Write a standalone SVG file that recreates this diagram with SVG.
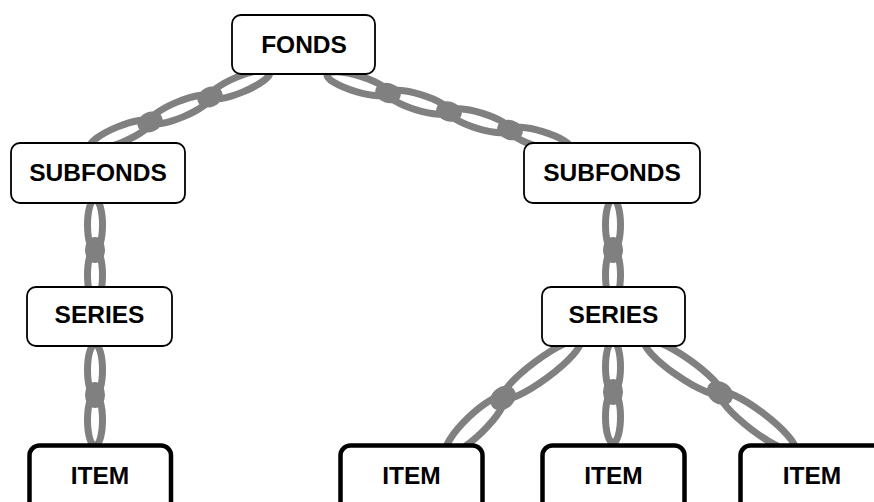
<svg xmlns="http://www.w3.org/2000/svg" width="874" height="502" viewBox="0 0 874 502">
<style>
.bg{fill:#fff}
.link{fill:none;stroke:#808080;stroke-width:7}
.knot{fill:#808080}
.box{fill:#fff;stroke:#000;stroke-width:1.8}
.item{fill:#fff;stroke:#000;stroke-width:4.5}
.lbl{font-family:"Liberation Sans",Arial,sans-serif;font-weight:bold;font-size:24.5px;fill:#000;text-anchor:middle}
</style>
<rect class="bg" x="0" y="0" width="874" height="502"/>
<g id="connectors">
  <!-- FONDS to SUBFONDS left -->
  <g>
    <ellipse class="link" cx="240" cy="84.5" rx="32.5" ry="8" transform="rotate(-22.6 240 84.5)"/>
    <ellipse class="link" cx="180" cy="109.5" rx="32.5" ry="8" transform="rotate(-22.6 180 109.5)"/>
    <ellipse class="link" cx="120" cy="134.5" rx="32.5" ry="8" transform="rotate(-22.6 120 134.5)"/>
    <ellipse class="knot" cx="210" cy="97" rx="13" ry="10" transform="rotate(-22.6 210 97)"/>
    <ellipse class="knot" cx="150" cy="122" rx="13" ry="10" transform="rotate(-22.6 150 122)"/>
  </g>
  <!-- FONDS to SUBFONDS right -->
  <g>
    <ellipse class="link" cx="357.5" cy="83.75" rx="32" ry="8" transform="rotate(16.9 357.5 83.75)"/>
    <ellipse class="link" cx="418.5" cy="102.25" rx="32" ry="8" transform="rotate(16.9 418.5 102.25)"/>
    <ellipse class="link" cx="479.5" cy="120.75" rx="32" ry="8" transform="rotate(16.9 479.5 120.75)"/>
    <ellipse class="link" cx="540.5" cy="139.25" rx="32" ry="8" transform="rotate(16.9 540.5 139.25)"/>
    <ellipse class="knot" cx="388" cy="93" rx="13" ry="10" transform="rotate(16.9 388 93)"/>
    <ellipse class="knot" cx="449" cy="111.5" rx="13" ry="10" transform="rotate(16.9 449 111.5)"/>
    <ellipse class="knot" cx="510" cy="130" rx="13" ry="10" transform="rotate(16.9 510 130)"/>
  </g>
  <!-- SUBFONDS left to SERIES left -->
  <g>
    <ellipse class="link" cx="95" cy="225" rx="7.5" ry="26"/>
    <ellipse class="link" cx="95" cy="275" rx="7.5" ry="26"/>
    <ellipse class="knot" cx="95" cy="250" rx="10" ry="13"/>
  </g>
  <!-- SERIES left to ITEM left -->
  <g>
    <ellipse class="link" cx="95" cy="370" rx="7.5" ry="26"/>
    <ellipse class="link" cx="95" cy="420" rx="7.5" ry="26"/>
    <ellipse class="knot" cx="95" cy="395" rx="10" ry="13"/>
  </g>
  <!-- SUBFONDS right to SERIES right -->
  <g>
    <ellipse class="link" cx="613" cy="225" rx="7.5" ry="26"/>
    <ellipse class="link" cx="613" cy="275" rx="7.5" ry="26"/>
    <ellipse class="knot" cx="613" cy="250" rx="10" ry="13"/>
  </g>
  <!-- SERIES right to ITEM middle -->
  <g>
    <ellipse class="link" cx="613" cy="367" rx="7.5" ry="26"/>
    <ellipse class="link" cx="613" cy="417" rx="7.5" ry="26"/>
    <ellipse class="knot" cx="613" cy="392" rx="10" ry="13"/>
  </g>
  <!-- SERIES right to ITEM 2 (left diagonal) -->
  <g>
    <ellipse class="link" cx="541.5" cy="369.5" rx="48" ry="10" transform="rotate(-36.5 541.5 369.5)"/>
    <ellipse class="link" cx="475" cy="425" rx="40" ry="10" transform="rotate(-44 475 425)"/>
    <ellipse class="knot" cx="503" cy="398" rx="14" ry="11" transform="rotate(-40 503 398)"/>
  </g>
  <!-- SERIES right to ITEM 4 (right diagonal) -->
  <g>
    <ellipse class="link" cx="682.5" cy="367" rx="46" ry="10" transform="rotate(34.7 682.5 367)"/>
    <ellipse class="link" cx="757.5" cy="421.5" rx="47" ry="10" transform="rotate(37.2 757.5 421.5)"/>
    <ellipse class="knot" cx="720" cy="393" rx="14" ry="11" transform="rotate(36 720 393)"/>
  </g>
</g>
<g id="fonds">
  <rect class="box" x="232" y="15" width="143" height="59" rx="9"/>
  <text class="lbl" x="304" y="53">FONDS</text>
</g>
<g id="subfonds-left">
  <rect class="box" x="11" y="143" width="174" height="60" rx="9"/>
  <text class="lbl" x="98" y="181">SUBFONDS</text>
</g>
<g id="subfonds-right">
  <rect class="box" x="524" y="143" width="176" height="60" rx="9"/>
  <text class="lbl" x="612" y="181">SUBFONDS</text>
</g>
<g id="series-left">
  <rect class="box" x="27" y="287" width="145" height="59" rx="9"/>
  <text class="lbl" x="99.5" y="323">SERIES</text>
</g>
<g id="series-right">
  <rect class="box" x="542" y="287" width="143" height="59" rx="9"/>
  <text class="lbl" x="613.5" y="323">SERIES</text>
</g>
<g id="item-1">
  <rect class="item" x="29.5" y="445.5" width="141.5" height="70" rx="10"/>
  <text class="lbl" x="100" y="484">ITEM</text>
</g>
<g id="item-2">
  <rect class="item" x="340.5" y="445.5" width="142" height="70" rx="10"/>
  <text class="lbl" x="411.5" y="484">ITEM</text>
</g>
<g id="item-3">
  <rect class="item" x="542.5" y="445.5" width="142" height="70" rx="10"/>
  <text class="lbl" x="613.5" y="484">ITEM</text>
</g>
<g id="item-4">
  <rect class="item" x="740.5" y="445.5" width="144" height="70" rx="10"/>
  <text class="lbl" x="812" y="484">ITEM</text>
</g>
</svg>
